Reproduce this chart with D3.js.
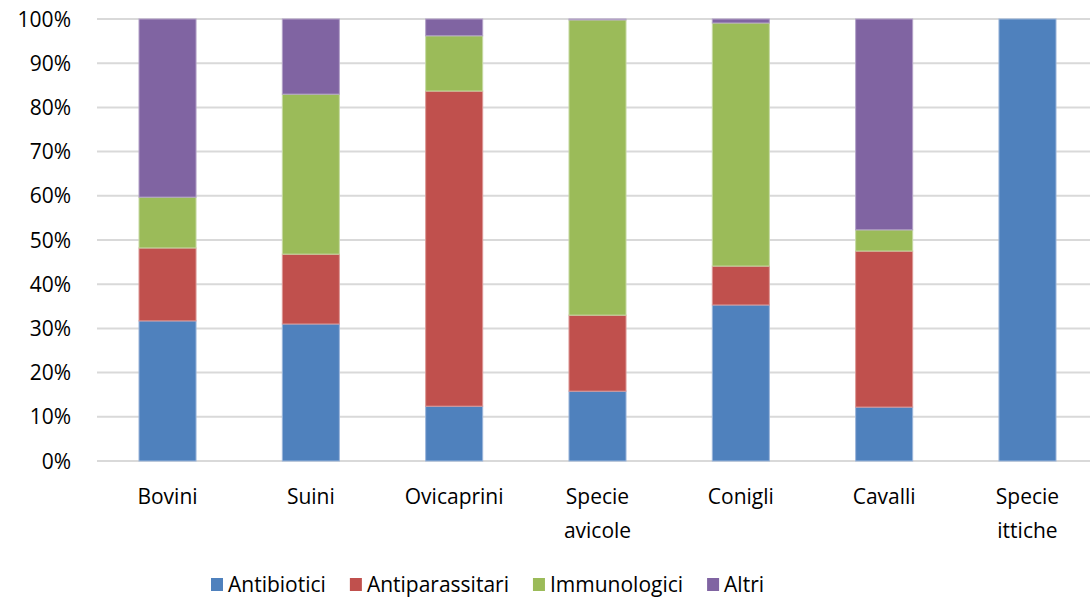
<!DOCTYPE html>
<html>
<head>
<meta charset="utf-8">
<script src="https://cdn.jsdelivr.net/npm/d3@7"></script>
<style>
  body { margin: 0; background: #fff; }
  text { font-family: "Open Sans", "Noto Sans", sans-serif; fill: #000; }
</style>
</head>
<body>
<div id="chart"></div>
<script>
// categories and series (percent of each species total)
const categories = ["Bovini", "Suini", "Ovicaprini", "Specie avicole", "Conigli", "Cavalli", "Specie ittiche"];
const antibiotici     = [31.7, 31.0, 12.4, 15.8, 35.3, 12.2, 100];
const antiparassitari = [16.5, 15.8, 71.3, 17.2,  8.8, 35.3, 0];
const immunologici    = [11.5, 36.2, 12.5, 66.8, 55.0,  4.8, 0];
const altri           = [40.3, 17.0,  3.8,  0.2,  0.9, 47.7, 0];
const seriesNames = ["Antibiotici", "Antiparassitari", "Immunologici", "Altri"];
const yTicks = [0, 10, 20, 30, 40, 50, 60, 70, 80, 90, 100];

const colors = ["#4f81bd", "#c0504d", "#9bbb59", "#8064a2"];
const edges  = ["#9bb5da", "#dc9896", "#c6d9a4", "#b3a2c8"];

const W = 1090, H = 601;
const margin = {top: 19, left: 97};
const width = 1001,       // band range runs past the right edge, like the original
    height = 442;

const root = d3.select("#chart").append("svg")
    .attr("width", W).attr("height", H);
const svg = root.append("g").attr("transform", "translate(" + margin.left + "," + margin.top + ")");

const rows = categories.map((c, i) => ({
  cat: c,
  Antibiotici: antibiotici[i],
  Antiparassitari: antiparassitari[i],
  Immunologici: immunologici[i],
  Altri: altri[i]
}));
const stacked = d3.stack().keys(seriesNames)(rows);

const x = d3.scaleBand().domain(categories).range([0, width]).paddingInner(0.602).paddingOuter(0.293);
const y = d3.scaleLinear().domain([0, 100]).range([height, 0]);

// gridlines
svg.append("g").selectAll("line").data(yTicks).join("line")
    .attr("x1", 0).attr("x2", W - margin.left)
    .attr("y1", d => y(d)).attr("y2", d => y(d))
    .attr("stroke", "#d9d9d9").attr("stroke-width", 2);

// y labels
svg.append("g").selectAll("text").data(yTicks).join("text")
    .attr("x", -26).attr("y", d => y(d)).attr("dy", "0.36em")
    .attr("text-anchor", "end").attr("font-size", 21)
    .text(d => d + "%");

// bars
svg.append("g").selectAll("g").data(stacked).join("g")
    .attr("fill", (d, i) => colors[i])
    .attr("stroke", (d, i) => edges[i]).attr("stroke-width", 1)
  .selectAll("rect").data(d => d).join("rect")
    .attr("x", d => x(d.data.cat))
    .attr("y", d => y(d[1]))
    .attr("width", x.bandwidth())
    .attr("height", d => Math.max(0, y(d[0]) - y(d[1])));

// x labels
const xl = svg.append("g").selectAll("text").data(categories).join("text")
    .attr("x", d => x(d) + x.bandwidth() / 2)
    .attr("y", height + 43)
    .attr("text-anchor", "middle").attr("font-size", 21);
xl.each(function(d) {
  const words = d.split(" ");
  d3.select(this).selectAll("tspan").data(words).join("tspan")
    .attr("x", x(d) + x.bandwidth() / 2)
    .attr("dy", (w, i) => i === 0 ? 0 : 34)
    .text(w => w);
});

// legend, laid out from the text widths and centred like the original
const legG = root.append("g");
const leg = legG.selectAll("g").data(seriesNames).join("g");
leg.append("rect").attr("width", 12).attr("height", 13).attr("y", 578).attr("fill", (d, i) => colors[i]);
leg.append("text").attr("x", 17).attr("y", 592).attr("font-size", 21).text(d => d);
let cursor = 0;
leg.each(function() {
  d3.select(this).attr("transform", "translate(" + cursor + ",0)");
  cursor += 17 + this.querySelector("text").getComputedTextLength() + 24;
});
const legW = cursor - 24;
legG.attr("transform", "translate(" + Math.round(488 - legW / 2) + ",0)");
</script>
</body>
</html>
